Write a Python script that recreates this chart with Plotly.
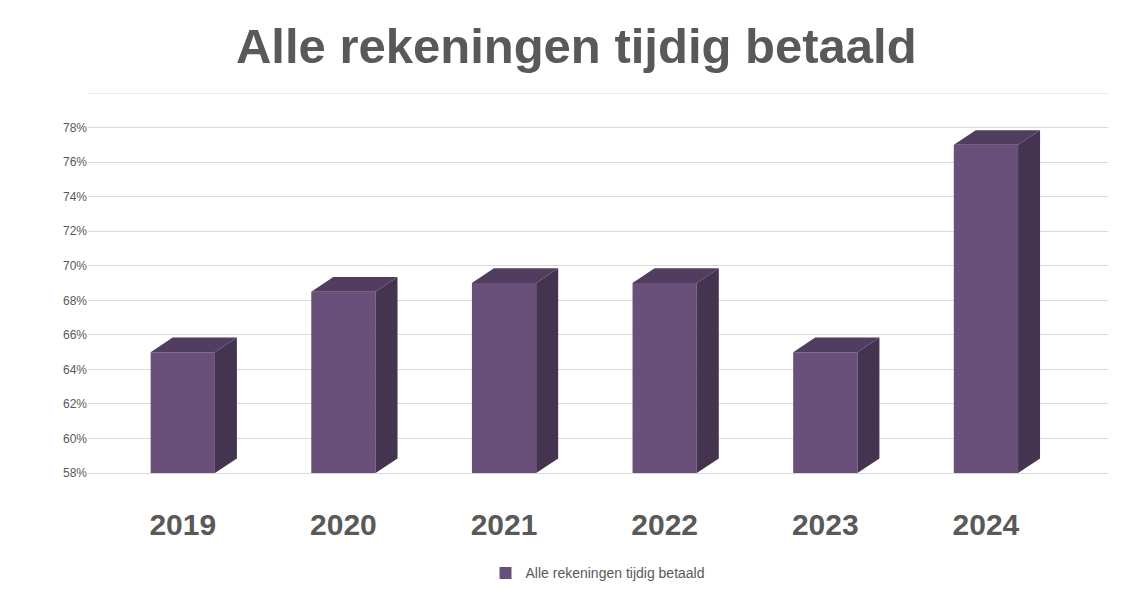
import plotly.graph_objects as go

years = ["2019", "2020", "2021", "2022", "2023", "2024"]
values = [65, 68.5, 69, 69, 65, 77]
tick_vals = [58, 60, 62, 64, 66, 68, 70, 72, 74, 76, 78]
tick_text = [f"{v}%" for v in tick_vals]
series_name = "Alle rekeningen tijdig betaald"

base = 58
w = 0.4
dx, dy = 0.137, 0.85
xs = list(range(len(years)))

fig = go.Figure()
fig.add_trace(go.Bar(x=xs, y=[v - base for v in values], base=base, width=w,
                     marker=dict(color="#68507a", line=dict(width=0)),
                     name=series_name, showlegend=True))
shapes = []
for x, v in zip(xs, values):
    r = x + w / 2
    l = x - w / 2
    shapes.append(dict(type="path", xref="x", yref="y",
                       path=f"M{r},{base} L{r+dx},{base+dy} L{r+dx},{v+dy} L{r},{v} Z",
                       fillcolor="#45344f", line=dict(width=0)))
    shapes.append(dict(type="path", xref="x", yref="y",
                       path=f"M{l},{v} L{r},{v} L{r+dx},{v+dy} L{l+dx},{v+dy} Z",
                       fillcolor="#503d5f", line=dict(width=0)))
shapes.append(dict(type="line", xref="paper", yref="y", x0=0, x1=1, y0=80, y1=80,
                   line=dict(color="#d9d9d9", width=1), layer="below"))

fig.update_layout(
    width=1148, height=594,
    margin=dict(l=80, r=48, t=85, b=110),
    paper_bgcolor="white", plot_bgcolor="white",
    title=dict(text="<b>" + series_name + "</b>", x=0.495, y=0.965, xanchor="center",
               font=dict(family="Liberation Sans, Arial", size=49, color="#595959")),
    xaxis=dict(range=[-0.59, 5.76], tickvals=xs, ticktext=[f"<b>{y}</b>" for y in years],
               tickfont=dict(family="Liberation Sans, Arial", size=30, color="#595959"),
               showgrid=False, zeroline=False, showline=False, ticks="",
               ticklabelstandoff=24),
    yaxis=dict(range=[57.6, 80], tickvals=tick_vals, ticktext=tick_text,
               tickfont=dict(family="Liberation Sans, Arial", size=12, color="#595959"),
               gridcolor="#d9d9d9", zeroline=False, showline=False),
    legend=dict(orientation="h", x=0.5, xanchor="center", y=-0.2, yanchor="top",
                font=dict(family="Liberation Sans, Arial", size=14, color="#595959")),
    shapes=shapes,
    bargap=0.6,
)
fig.write_html("out.html")
